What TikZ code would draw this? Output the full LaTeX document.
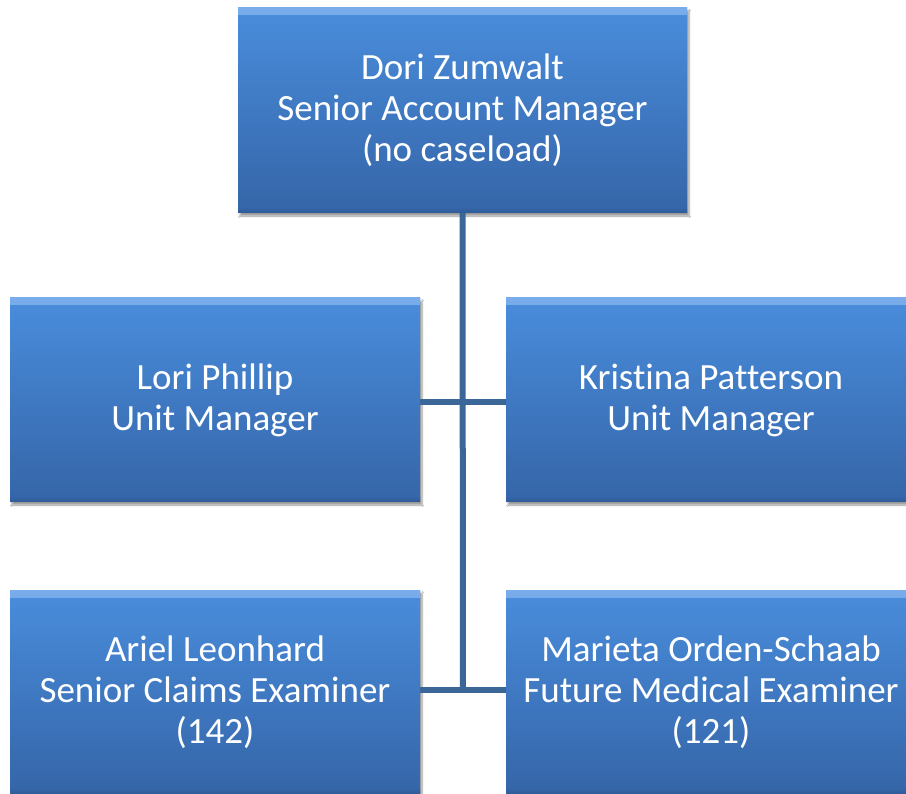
\documentclass[tikz,border=0pt]{standalone}
\usepackage{fontspec}
\setmainfont[Ligatures=NoCommon]{Carlito}
\usetikzlibrary{shadows.blur}
\definecolor{boxtop}{HTML}{4A8DDC}
\definecolor{boxmid}{HTML}{3F79C2}
\definecolor{boxbot}{HTML}{3565A8}
\definecolor{hilite}{HTML}{78ACEA}
\definecolor{lowlite}{HTML}{2F5A94}
\definecolor{linkc}{HTML}{3B6698}
\tikzset{
  orgbox/.style={minimum width=#1, minimum height=204pt, inner sep=0pt,
    top color=boxtop, bottom color=boxbot, middle color=boxmid,
    draw=none, text=white, align=center,
    font=\fontsize{37pt}{41pt}\selectfont,
    blur shadow={shadow xshift=2pt, shadow yshift=-3pt, shadow blur steps=6, shadow opacity=40},
    path picture={
      \shade[top color=hilite, bottom color=boxtop] (path picture bounding box.north west) rectangle ([yshift=-7pt]path picture bounding box.north east);
      \shade[top color=boxbot, bottom color=lowlite] ([yshift=5pt]path picture bounding box.south west) rectangle (path picture bounding box.south east);
    }},
  orgbox/.default=410pt,
  link/.style={draw=linkc, line width=6pt}
}
\begin{document}
\begin{tikzpicture}[x=1pt,y=-1pt]
\useasboundingbox (0,0) rectangle (906,794);
\fill[white] (0,0) rectangle (906,794);
\node[orgbox=449pt, minimum height=205pt] (top) at (462.5,110.5) {Dori Zumwalt\\Senior Account Manager\\(no caseload)};
\coordinate (j2) at (463,690);
\draw[link] (top.south) -- (j2);
\node[orgbox] (lm) at (215,400) {Lori Phillip\\Unit Manager};
\node[orgbox] (rm) at (711,400) {Kristina Patterson\\Unit Manager};
\node[orgbox] (bl) at (215,692) {Ariel Leonhard\\Senior Claims Examiner\\(142)};
\node[orgbox] (br) at (711,692) {Marieta Orden-Schaab\\Future Medical Examiner\\(121)};
\draw[link] (lm.east |- 0,402) -- (rm.west |- 0,402);
\draw[link] (bl.east |- j2) -- (br.west |- j2);
\end{tikzpicture}
\end{document}
